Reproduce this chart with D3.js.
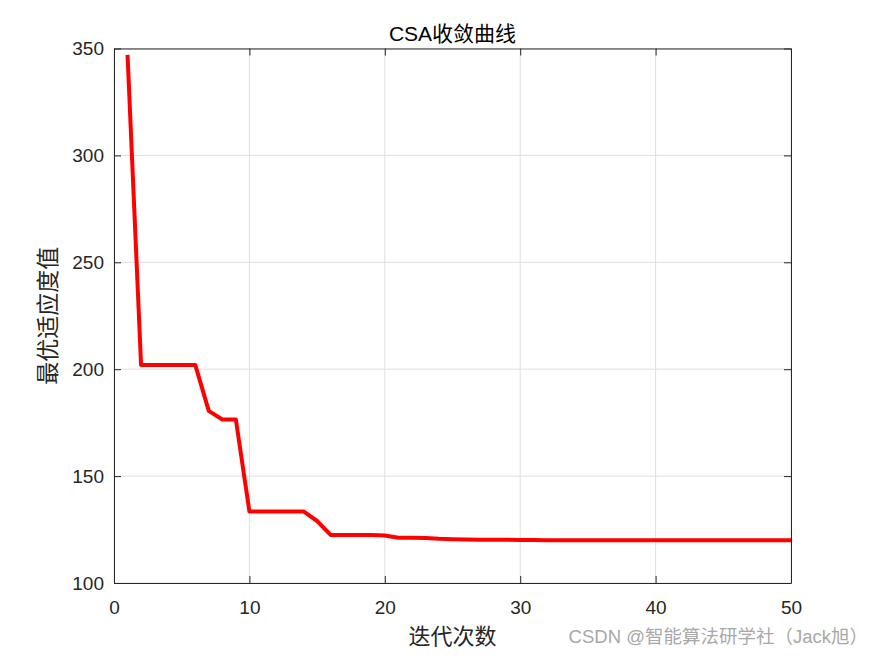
<!DOCTYPE html>
<html>
<head>
<meta charset="utf-8">
<script src="https://cdn.jsdelivr.net/npm/d3@7"></script>
<style>
  body { margin: 0; background: #fff; }
  svg { display: block; }
  .tick text { font-family: "Liberation Sans", Arial, sans-serif; font-size: 19px; fill: #262626; }
</style>
</head>
<body>
<div id="chart"></div>
<script>
// iteration number and best fitness
var iters = d3.range(1, 51);
var fitness = [347, 202, 202, 202, 202, 202, 180.5, 176.5, 176.5, 133.5,
  133.5, 133.5, 133.5, 133.5, 129, 122.5, 122.5, 122.5, 122.4, 122.2,
  121.2, 121.2, 121.1, 120.7, 120.5, 120.3, 120.2, 120.2, 120.2, 120.1,
  120.1, 120, 120, 120, 120, 120, 120, 120, 120, 120,
  120, 120, 120, 120, 120, 120, 120, 120, 120, 120];
var xTicks = [0, 10, 20, 30, 40, 50];
var yTicks = [100, 150, 200, 250, 300, 350];

var svgWidth = 875;
var svgHeight = 656;
var margin = { top: 48.5, right: 84, bottom: 73, left: 114 };
var width = svgWidth - margin.left - margin.right;
var height = svgHeight - margin.top - margin.bottom;

var svg = d3.select("#chart")
  .append("svg")
  .attr("width", svgWidth)
  .attr("height", svgHeight);

var chart = svg.append("g")
  .attr("transform", `translate(${margin.left}, ${margin.top})`);

var xScale = d3.scaleLinear().domain([0, 50]).range([0, width]);
var yScale = d3.scaleLinear().domain([100, 350]).range([height, 0]);

// grid lines
chart.append("g")
  .attr("class", "grid")
  .selectAll("line.gx")
  .data(xTicks)
  .enter().append("line")
  .attr("x1", d => xScale(d)).attr("x2", d => xScale(d))
  .attr("y1", 0).attr("y2", height)
  .attr("stroke", "#dfdfdf").attr("stroke-width", 1);

chart.append("g")
  .attr("class", "grid")
  .selectAll("line.gy")
  .data(yTicks)
  .enter().append("line")
  .attr("x1", 0).attr("x2", width)
  .attr("y1", d => yScale(d)).attr("y2", d => yScale(d))
  .attr("stroke", "#dfdfdf").attr("stroke-width", 1);

// axes with inward ticks
var bottomAxis = d3.axisBottom(xScale).tickValues(xTicks).tickSizeInner(-7).tickSizeOuter(0).tickPadding(18);
var leftAxis = d3.axisLeft(yScale).tickValues(yTicks).tickSizeInner(-7).tickSizeOuter(0).tickPadding(10);
var topAxis = d3.axisTop(xScale).tickValues(xTicks).tickSizeInner(-7).tickSizeOuter(0).tickFormat("");
var rightAxis = d3.axisRight(yScale).tickValues(yTicks).tickSizeInner(-7).tickSizeOuter(0).tickFormat("");

chart.append("g").attr("transform", `translate(0, ${height})`).call(bottomAxis);
chart.append("g").call(leftAxis);
chart.append("g").call(topAxis);
chart.append("g").attr("transform", `translate(${width}, 0)`).call(rightAxis);

chart.selectAll(".domain").attr("stroke", "#262626");
chart.selectAll(".tick line").attr("stroke", "#262626");

// the convergence curve
var line = d3.line()
  .x((d, i) => xScale(iters[i]))
  .y(d => yScale(d));

chart.append("path")
  .datum(fitness)
  .attr("fill", "none")
  .attr("stroke", "#ff0000")
  .attr("stroke-width", 4)
  .attr("stroke-linejoin", "round")
  .attr("d", line);

// title and axis labels
svg.append("text")
  .attr("x", margin.left + width / 2)
  .attr("y", 40.5)
  .attr("text-anchor", "middle")
  .style("font-family", "'Liberation Sans', 'Noto Sans CJK SC', sans-serif")
  .style("font-size", "21px")
  .attr("fill", "#000")
  .text("CSA收敛曲线");

svg.append("text")
  .attr("x", margin.left + width / 2)
  .attr("y", 644)
  .attr("text-anchor", "middle")
  .style("font-family", "'Noto Sans CJK SC', sans-serif")
  .style("font-size", "22px")
  .attr("fill", "#262626")
  .text("迭代次数");

svg.append("text")
  .attr("transform", `translate(56, ${margin.top + height / 2}) rotate(-90)`)
  .attr("text-anchor", "middle")
  .style("font-family", "'Noto Sans CJK SC', sans-serif")
  .style("font-size", "23px")
  .attr("fill", "#262626")
  .text("最优适应度值");

// watermark
svg.append("text")
  .attr("x", 868)
  .attr("y", 643)
  .attr("text-anchor", "end")
  .style("font-family", "'Liberation Sans', 'Noto Sans CJK SC', sans-serif")
  .style("font-size", "18.5px")
  .attr("fill", "#a8a8a8")
  .text("CSDN @智能算法研学社（Jack旭）");
</script>
</body>
</html>
